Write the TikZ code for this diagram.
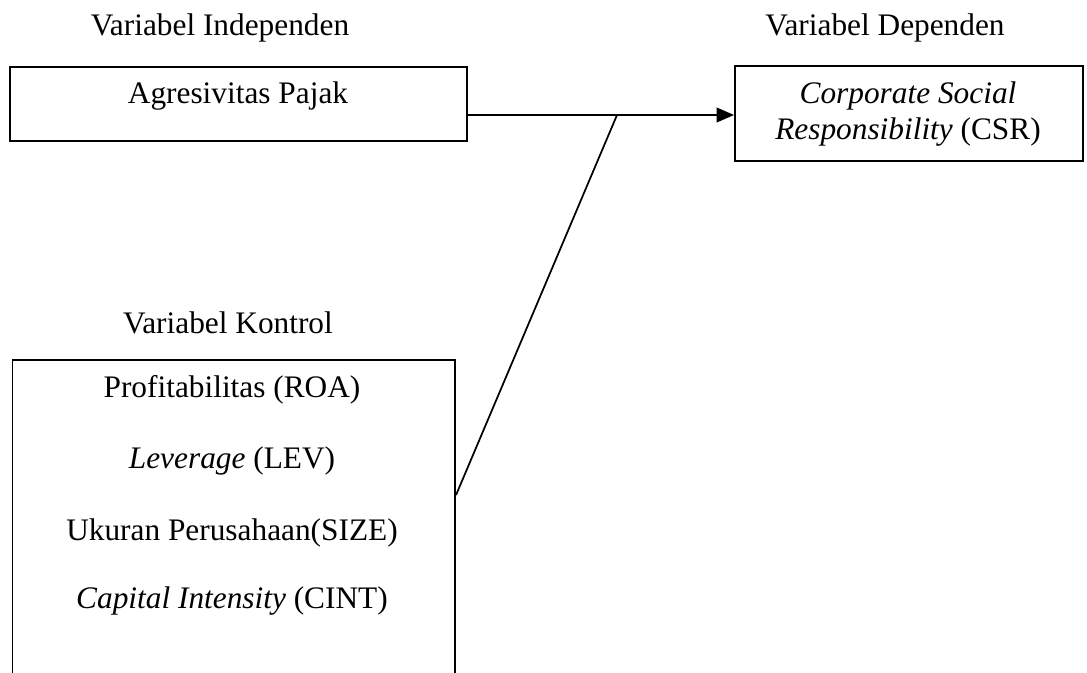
\documentclass[tikz,border=0pt]{standalone}
\usepackage{fontspec}
\setmainfont{Liberation Serif}
\usepackage{tikz}
\usetikzlibrary{arrows.meta}

\tikzset{
  kotak/.style={draw, line width=1.4pt, inner sep=0pt, anchor=north west},
  teks/.style={anchor=base, inner sep=0pt, font=\fontsize{23.5}{28}\selectfont},
  garis/.style={line width=1.3pt}
}

\begin{document}
\begin{tikzpicture}[x=0.75pt, y=-0.75pt]
  \useasboundingbox (0,0) rectangle (1087,672);
  \clip (0,0) rectangle (1087,672);
  % judul kelompok variabel
  \node[teks] (judulind) at (220,35) {Variabel Independen};
  \node[teks] (juduldep) at (885,35) {Variabel Dependen};
  \node[teks] (judulkon) at (228,333) {Variabel Kontrol};
  % kotak
  \node[kotak, minimum width=342.75pt, minimum height=55.5pt] (agresi) at (9,66) {};
  \node[teks] (agresiteks) at (238,103) {Agresivitas Pajak};
  \node[kotak, minimum width=261pt, minimum height=71.25pt] (csr) at (734,65) {};
  \node[teks] (csr1) at (908,103) {\textit{Corporate Social}};
  \node[teks] (csr2) at (908,139) {\textit{Responsibility} (CSR)};
  \node[kotak, minimum width=332pt, minimum height=240pt] (kontrol) at (11.5,359) {};
  \node[teks] (roa) at (232,397) {Profitabilitas (ROA)};
  \node[teks] (lev) at (232,468) {\textit{Leverage} (LEV)};
  \node[teks] (size) at (232,540) {Ukuran Perusahaan(SIZE)};
  \node[teks] (cint) at (232,608) {\textit{Capital Intensity} (CINT)};
  % panah
  \coordinate (junc) at (617,115);
  \draw[garis, -{Triangle[length=13pt, width=11pt]}] (agresi.east |- junc) -- (csr.west |- junc);
  \draw[garis] ([yshift=-102pt]kontrol.north east) -- (junc);
\end{tikzpicture}
\end{document}
